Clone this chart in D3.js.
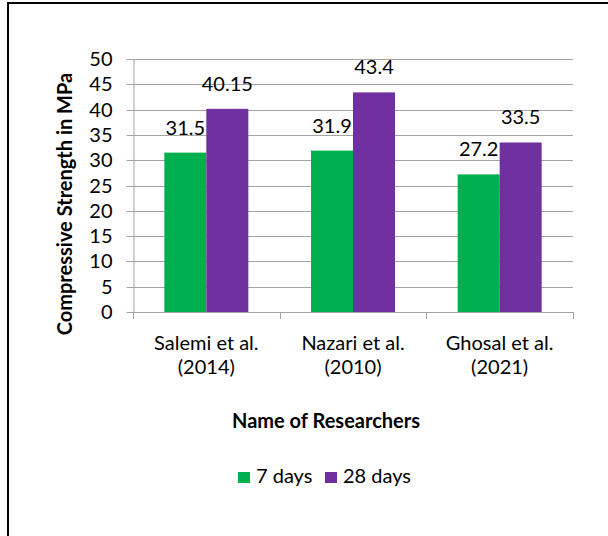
<!DOCTYPE html>
<html>
<head>
<meta charset="utf-8">
<script src="https://cdn.jsdelivr.net/npm/d3@7"></script>
<style>
  html, body { margin: 0; padding: 0; background: #fff; }
  svg { display: block; font-family: Lato, "Open Sans", sans-serif; }
</style>
</head>
<body>
<svg id="chart" width="608" height="536"></svg>
<script>
// Compressive strength reported by each study, at 7 and 28 days of curing
const researchers = [["Salemi et al.", "(2014)"], ["Nazari et al.", "(2010)"], ["Ghosal et al.", "(2021)"]];
const seriesNames = ["7 days", "28 days"];
const days7 = [31.5, 31.9, 27.2];
const days28 = [40.15, 43.4, 33.5];
const yTicks = [0, 5, 10, 15, 20, 25, 30, 35, 40, 45, 50];
const colors = ["#00B050", "#7030A0"];

const seriesValues = [days7, days28];
const catKeys = researchers.map(r => r.join(" "));

const svg = d3.select("#chart");

// outer chart frame (open to the right and bottom)
svg.append("rect")
  .attr("x", 8).attr("y", 3)
  .attr("width", 640).attr("height", 600)
  .attr("fill", "#fff")
  .attr("stroke", "#000").attr("stroke-width", 2);

const plotLeft = 133, plotRight = 573, plotTop = 59, plotBottom = 312;

const x = d3.scaleBand().domain(catKeys).range([plotLeft, plotRight]).paddingInner(0).paddingOuter(0);
const xs = d3.scaleBand().domain(seriesNames).range([0, x.bandwidth()]).paddingInner(0).paddingOuter(0.746);
const y = d3.scaleLinear().domain([0, 50]).range([plotBottom, plotTop]);

// horizontal gridlines
svg.append("g")
  .selectAll("line")
  .data(yTicks.filter(t => t > 0))
  .join("line")
  .attr("x1", plotLeft).attr("x2", plotRight)
  .attr("y1", d => Math.round(y(d)) + 0.5).attr("y2", d => Math.round(y(d)) + 0.5)
  .attr("stroke", "#a3a3a3").attr("stroke-width", 1);

// y axis
const yAxis = svg.append("g")
  .attr("transform", `translate(${plotLeft + 0.5},0.5)`)
  .call(d3.axisLeft(y).tickValues(yTicks).tickSize(7).tickSizeOuter(0).tickPadding(14));
yAxis.select(".domain").attr("stroke", "#a3a3a3");
yAxis.selectAll(".tick line").attr("stroke", "#a3a3a3");
yAxis.selectAll(".tick text")
  .attr("font-family", "Lato, sans-serif")
  .attr("font-size", 20)
  .attr("fill", "#000");
yAxis.selectAll(".tick").attr("transform", d => `translate(0,${Math.round(y(d))})`);

// bars
const groups = svg.append("g")
  .selectAll("g")
  .data(catKeys)
  .join("g")
  .attr("transform", d => `translate(${x(d)},0)`);

groups.selectAll("rect")
  .data((d, i) => seriesNames.map((s, j) => ({ s, j, v: seriesValues[j][i] })))
  .join("rect")
  .attr("x", d => xs(d.s))
  .attr("width", xs.bandwidth())
  .attr("y", d => y(d.v))
  .attr("height", d => y(0) - y(d.v))
  .attr("fill", d => colors[d.j]);

// value labels above bars
groups.selectAll("text.val")
  .data((d, i) => seriesNames.map((s, j) => ({ s, j, v: seriesValues[j][i] })))
  .join("text")
  .attr("class", "val")
  .attr("x", d => xs(d.s) + xs.bandwidth() / 2)
  .attr("y", d => y(d.v) - 18)
  .attr("text-anchor", "middle")
  .attr("font-size", 20)
  .attr("fill", "#000")
  .text(d => String(d.v));

// x axis line with category boundary ticks
const xAxis = svg.append("g");
xAxis.append("line")
  .attr("x1", plotLeft).attr("x2", plotRight + 0.5)
  .attr("y1", plotBottom + 0.5).attr("y2", plotBottom + 0.5)
  .attr("stroke", "#a3a3a3");
xAxis.selectAll("line.tk")
  .data(catKeys.map(k => x(k)).concat([plotRight]))
  .join("line")
  .attr("class", "tk")
  .attr("x1", d => Math.round(d) + 0.5).attr("x2", d => Math.round(d) + 0.5)
  .attr("y1", plotBottom).attr("y2", plotBottom + 7)
  .attr("stroke", "#a3a3a3");

// category labels (two lines each)
const catLabels = xAxis.selectAll("text.cat")
  .data(researchers)
  .join("text")
  .attr("class", "cat")
  .attr("text-anchor", "middle")
  .attr("font-size", 20)
  .attr("fill", "#000");
catLabels.each(function (d, i) {
  const cx = x(catKeys[i]) + x.bandwidth() / 2;
  d3.select(this).selectAll("tspan")
    .data(d)
    .join("tspan")
    .attr("x", cx)
    .attr("y", (t, k) => 350 + k * 24)
    .text(t => t);
});

// axis titles
svg.append("text")
  .attr("transform", "translate(72,204) rotate(-90)")
  .attr("text-anchor", "middle")
  .attr("font-size", 20)
  .attr("font-weight", "bold")
  .attr("fill", "#000")
  .text("Compressive Strength in MPa");

svg.append("text")
  .attr("x", 326).attr("y", 428)
  .attr("text-anchor", "middle")
  .attr("font-size", 20)
  .attr("font-weight", "bold")
  .attr("fill", "#000")
  .text("Name of Researchers");

// legend
const legendX = [238, 325];
const legend = svg.append("g")
  .selectAll("g")
  .data(seriesNames)
  .join("g")
  .attr("transform", (d, i) => `translate(${legendX[i]},472)`);
legend.append("rect")
  .attr("width", 12).attr("height", 11)
  .attr("fill", (d, i) => colors[i]);
legend.append("text")
  .attr("x", 18).attr("y", 11)
  .attr("font-size", 20)
  .attr("fill", "#000")
  .text(d => d);
</script>
</body>
</html>
